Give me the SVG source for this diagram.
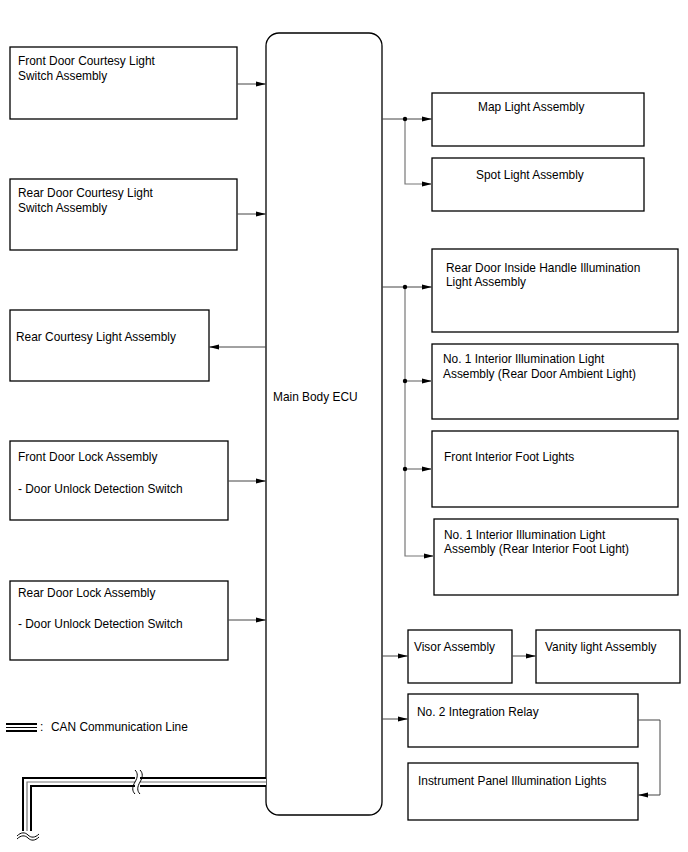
<svg xmlns="http://www.w3.org/2000/svg" width="688" height="852" viewBox="0 0 688 852">
<style>
.box{fill:#fff;stroke:#000;stroke-width:1.3}
text{font-family:"Liberation Sans",Arial,sans-serif;font-size:11.9px;fill:#000}
.c{fill:none;stroke:#444;stroke-width:1}
.b{fill:none;stroke:#777;stroke-width:1.2}
</style>
<defs>
<marker id="ar" markerWidth="10" markerHeight="6" refX="10" refY="3" orient="auto" markerUnits="userSpaceOnUse">
<path d="M0,0.5 L10,3 L0,5.5 z" fill="#000"/>
</marker>
</defs>
<rect width="688" height="852" fill="#fff"/>

<g id="ecu"><rect class="box" x="266" y="33" width="116" height="782" rx="13"/><text x="273" y="401">Main Body ECU</text></g>

<g id="n1"><rect class="box" x="10" y="47" width="227" height="72"/><text x="18" y="65">Front Door Courtesy Light</text><text x="18" y="80">Switch Assembly</text></g>
<g id="n2"><rect class="box" x="10" y="179" width="227" height="71"/><text x="18" y="197">Rear Door Courtesy Light</text><text x="18" y="212">Switch Assembly</text></g>
<g id="n3"><rect class="box" x="10" y="310" width="199" height="71"/><text x="16" y="341">Rear Courtesy Light Assembly</text></g>
<g id="n4"><rect class="box" x="10" y="441" width="218" height="79"/><text x="18" y="461">Front Door Lock Assembly</text><text x="18" y="493">- Door Unlock Detection Switch</text></g>
<g id="n5"><rect class="box" x="10" y="581" width="218" height="79"/><text x="18" y="597">Rear Door Lock Assembly</text><text x="18" y="628">- Door Unlock Detection Switch</text></g>

<g id="n6"><rect class="box" x="432" y="93" width="212" height="53"/><text x="478" y="111">Map Light Assembly</text></g>
<g id="n7"><rect class="box" x="432" y="158" width="212" height="53"/><text x="476" y="179">Spot Light Assembly</text></g>
<g id="n8"><rect class="box" x="432" y="249" width="246" height="83"/><text x="446" y="272">Rear Door Inside Handle Illumination</text><text x="446" y="286">Light Assembly</text></g>
<g id="n9"><rect class="box" x="432" y="344" width="246" height="75"/><text x="443" y="363">No. 1 Interior Illumination Light</text><text x="443" y="378">Assembly (Rear Door Ambient Light)</text></g>
<g id="n10"><rect class="box" x="432" y="431" width="246" height="76"/><text x="444" y="461">Front Interior Foot Lights</text></g>
<g id="n11"><rect class="box" x="434" y="519" width="244" height="76"/><text x="444" y="539">No. 1 Interior Illumination Light</text><text x="444" y="553">Assembly (Rear Interior Foot Light)</text></g>
<g id="n12"><rect class="box" x="408" y="630" width="104" height="53"/><text x="414" y="651">Visor Assembly</text></g>
<g id="n13"><rect class="box" x="536" y="630" width="144" height="53"/><text x="545" y="651">Vanity light Assembly</text></g>
<g id="n14"><rect class="box" x="408" y="694" width="230" height="53"/><text x="417" y="716">No. 2 Integration Relay</text></g>
<g id="n15"><rect class="box" x="408" y="763" width="230" height="57"/><text x="418" y="785">Instrument Panel Illumination Lights</text></g>

<g id="legend">
<path d="M6,724H37M6,731H37" stroke="#000" stroke-width="2.2" fill="none"/>
<path d="M6,727.5H37" stroke="#000" stroke-width="1" fill="none"/>
<text x="40" y="731">:</text>
<text x="51" y="731">CAN Communication Line</text>
</g>

<g id="connectors">
<path class="c" d="M237,84H266" marker-end="url(#ar)"/>
<path class="c" d="M237,214H266" marker-end="url(#ar)"/>
<path class="c" d="M266,347H209" marker-end="url(#ar)"/>
<path class="c" d="M228,481H266" marker-end="url(#ar)"/>
<path class="c" d="M228,620H266" marker-end="url(#ar)"/>

<path class="c" d="M382,119H432" marker-end="url(#ar)"/>
<path class="b" d="M405,119V184H432" marker-end="url(#ar)"/>
<circle cx="405" cy="119" r="2.2" fill="#000"/>

<path class="c" d="M382,287H432" marker-end="url(#ar)"/>
<path class="b" d="M405,287V556H434" marker-end="url(#ar)"/>
<path class="b" d="M405,381H432" marker-end="url(#ar)"/>
<path class="b" d="M405,469H432" marker-end="url(#ar)"/>
<circle cx="405" cy="287" r="2.2" fill="#000"/>
<circle cx="405" cy="381" r="2.2" fill="#000"/>
<circle cx="405" cy="469" r="2.2" fill="#000"/>

<path class="c" d="M382,656H408" marker-end="url(#ar)"/>
<path class="c" d="M512,656H536" marker-end="url(#ar)"/>
<path class="c" d="M382,719H408" marker-end="url(#ar)"/>
<path class="c" d="M638,720H660V795H638" marker-end="url(#ar)"/>

<g id="can">
<path d="M266,782H27V833" fill="none" stroke="#000" stroke-width="10" stroke-linejoin="miter"/>
<path d="M266,782H27V833" fill="none" stroke="#fff" stroke-width="6" stroke-linejoin="miter"/>
<path d="M266,782H27V833" fill="none" stroke="#777" stroke-width="1.2" stroke-linejoin="miter"/>
<rect x="135" y="776" width="5" height="12" fill="#fff"/>
<path d="M135,770c3,3 3,7 0,12c-3,5 -3,9 0,12" fill="none" stroke="#000" stroke-width="1"/>
<path d="M140,770c3,3 3,7 0,12c-3,5 -3,9 0,12" fill="none" stroke="#000" stroke-width="1"/>
<rect x="18" y="831" width="20" height="8" fill="#fff"/>
<path d="M17,836c4,-4 8,-4 11,-1c3,3 7,3 11,-1" fill="none" stroke="#000" stroke-width="1"/>
<path d="M17,839c4,-4 8,-4 11,-1c3,3 7,3 11,-1" fill="none" stroke="#000" stroke-width="1"/>
</g>
</g>
</svg>
